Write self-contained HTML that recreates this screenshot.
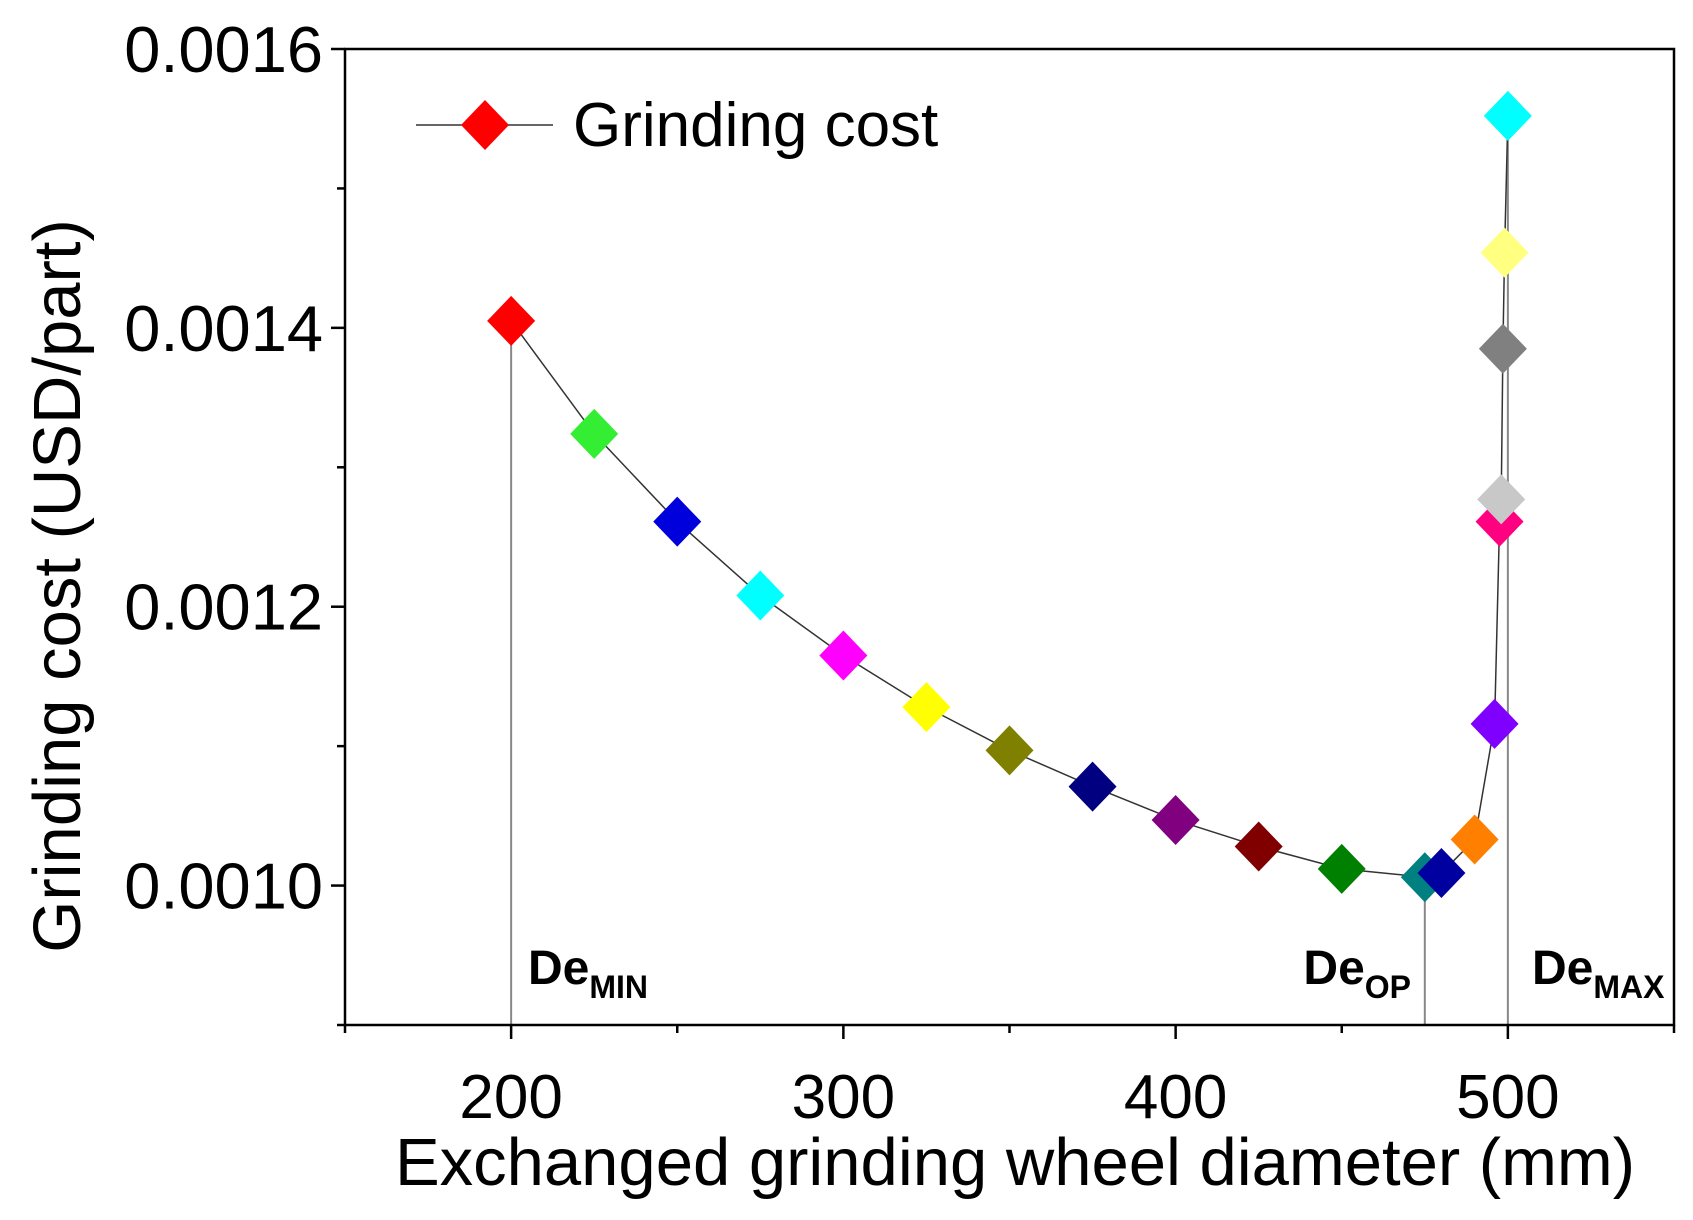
<!DOCTYPE html>
<html><head><meta charset="utf-8"><style>
html,body{margin:0;padding:0;background:#fff;}
svg{display:block;font-family:"Liberation Sans",Arial,sans-serif;}
</style></head><body>
<svg id="chart" width="1693" height="1220" viewBox="0 0 1693 1220"></svg>
<script>
const xValues = [200,225,250,275,300,325,350,375,400,425,450,475,480,490,496,497.5,498,498.5,499,500];
const costValues = [0.001405,0.001324,0.001261,0.001208,0.001165,0.001128,0.001097,0.001071,0.001047,0.001028,0.001012,0.001006,0.001009,0.001033,0.001116,0.001261,0.001277,0.001385,0.001454,0.001552];
const pointColors = ["#ff0000","#33ee33","#0000dd","#00ffff","#ff00ff","#ffff00","#808000","#000080","#800080","#800000","#008000","#008080","#0000a0","#ff8000","#8000ff","#ff0080","#c8c8c8","#808080","#ffff80","#00ffff"];
const xTickLabels = [200,300,400,500];
const yTickLabels = ["0.0010","0.0012","0.0014","0.0016"];
const dropLines = [{x:200,label:"De",sub:"MIN"},{x:475,label:"De",sub:"OP"},{x:500,label:"De",sub:"MAX"}];

const L=345,R=1674,T=49,B=1025;
const xMin=150,xMax=550,yMin=0.0009,yMax=0.0016;
const sx=v=>L+(v-xMin)/(xMax-xMin)*(R-L);
const sy=v=>B-(v-yMin)/(yMax-yMin)*(B-T);
const svg=document.getElementById('chart');
const NS="http://www.w3.org/2000/svg";
function mk(tag,attrs,parent){const e=document.createElementNS(NS,tag);for(const k in attrs)e.setAttribute(k,attrs[k]);(parent||svg).appendChild(e);return e;}

dropLines.forEach(d=>{
  const i=xValues.indexOf(d.x);
  const y0=i>=0?sy(costValues[i]):sy(0.001);
  const ln=mk('line',{x1:sx(d.x),x2:sx(d.x),y1:y0,y2:B,stroke:'#888',"stroke-width":2});
  
  
});
const box=mk('rect',{x:L,y:T,width:R-L,height:B-T,fill:'none',stroke:'#000',"stroke-width":2.5});


for(let k=0;k<=7;k++){
  const v=yMin+k*0.0001;const y=sy(v);const major=(k%2===1);
  const t=mk('line',{x1:L,x2:L-(major?14:8),y1:y,y2:y,stroke:'#000',"stroke-width":2.5});
  
  
}
yTickLabels.forEach(s=>{
  const tx=mk('text',{x:323,y:sy(parseFloat(s))+23,"text-anchor":"end","font-size":65});
  tx.textContent=s;
  
  
});
for(let v=150;v<=550;v+=50){
  const major=(v%100===0);
  const t=mk('line',{x1:sx(v),x2:sx(v),y1:B,y2:B+(major?14:8),stroke:'#000',"stroke-width":2.5});
  
  
}
xTickLabels.forEach(v=>{
  const tx=mk('text',{x:sx(v),y:1118,"text-anchor":"middle","font-size":62});
  tx.textContent=v;
  
  
});
const xt=mk('text',{x:1015,y:1185,"text-anchor":"middle","font-size":67});
xt.textContent="Exchanged grinding wheel diameter (mm)";


const yt=mk('text',{x:0,y:0,"text-anchor":"middle","font-size":67,transform:"translate(80,586) rotate(-90)"});
yt.textContent="Grinding cost (USD/part)";


const pts=xValues.map((x,i)=>sx(x)+","+sy(costValues[i])).join(" ");
const pl=mk('polyline',{points:pts,fill:'none',stroke:'#333',"stroke-width":1.5});


function diamond(cx,cy,c,parent){return mk('polygon',{points:`${cx},${cy-25} ${cx+24},${cy} ${cx},${cy+25} ${cx-24},${cy}`,fill:c,stroke:'none'},parent);}
xValues.forEach((x,i)=>{
  const d=diamond(sx(x),sy(costValues[i]),pointColors[i]);
  
  
});
dropLines.forEach(d=>{
  const offs={MIN:[528,984,"start"],OP:[1411,984,"end"],MAX:[1532,984,"start"]}[d.sub];
  const g=mk('text',{x:offs[0],y:offs[1],"font-size":48,"font-weight":"bold","text-anchor":offs[2]});
  
  
  const a=document.createElementNS(NS,'tspan');a.textContent=d.label;g.appendChild(a);
  const b=document.createElementNS(NS,'tspan');b.setAttribute('font-size','32');b.setAttribute('dy','14');b.textContent=d.sub;g.appendChild(b);
});
const lg=mk('g',{});


mk('line',{x1:416,x2:553,y1:125,y2:125,stroke:'#333',"stroke-width":1.5},lg);
diamond(485,125,'#ff0000',lg);
const lt=mk('text',{x:573,y:146,"font-size":62},lg);
lt.textContent="Grinding cost";
</script>
</body></html>
